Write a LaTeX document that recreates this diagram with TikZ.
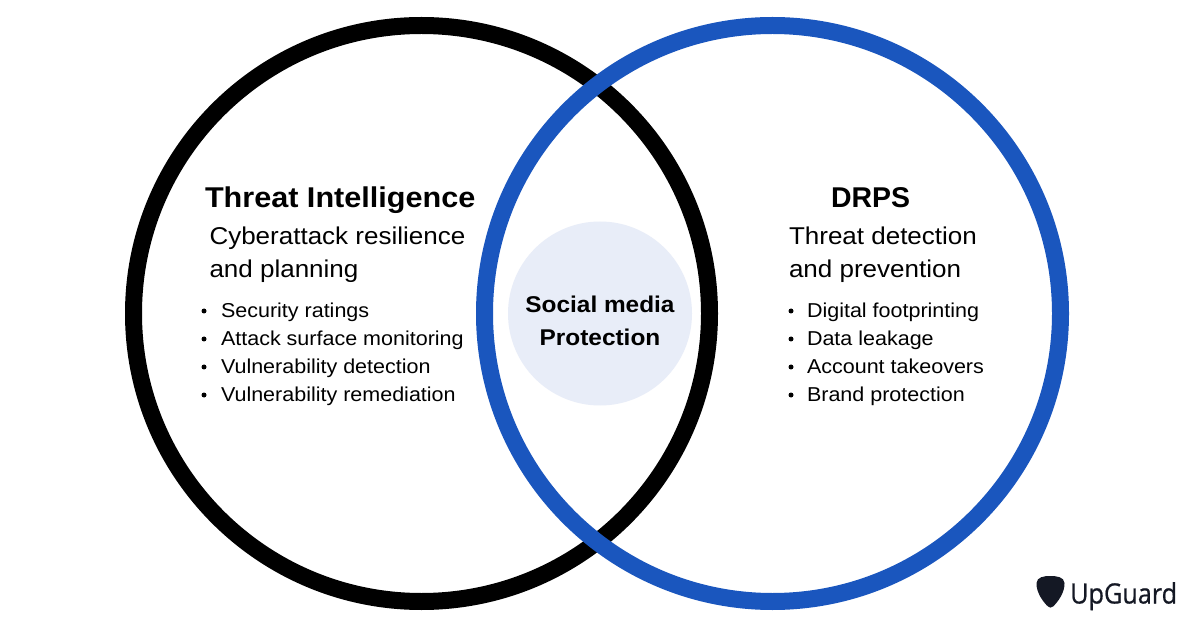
\documentclass[tikz,border=0pt]{standalone}
\usepackage{fontspec}
\usepackage{graphicx}
\setmainfont[FakeStretch=1.07]{Liberation Sans}
\newfontfamily\logofont[FakeStretch=0.9,FakeBold=0.6]{Open Sans}
\definecolor{ringblue}{HTML}{1A56BE}
\definecolor{softblue}{HTML}{E8EDF8}
\definecolor{inkdark}{HTML}{141824}
\tikzset{
  ring/.style={line width=17pt,draw=#1,fill=none},
  txt/.style={anchor=base west,inner sep=0pt,outer sep=0pt,text=black},
  headline/.style={txt,font=\fontsize{28.6}{32}\selectfont\bfseries},
  subline/.style={txt,font=\fontsize{24.3}{28}\selectfont},
  item/.style={txt,font=\fontsize{20.1}{24}\selectfont},
  centerlabel/.style={anchor=base,inner sep=0pt,outer sep=0pt,font=\fontsize{22.8}{26}\selectfont\bfseries},
  bullet/.style={circle,fill=black,inner sep=0pt,minimum size=5pt}
}
\begin{document}
\begin{tikzpicture}[x=1pt,y=-1pt]
\useasboundingbox (0,0) rectangle (1200,628);
\fill[white] (0,0) rectangle (1200,628);
\fill[softblue] (600,313.5) circle (92);
\draw[ring=black] (421.5,313.5) circle (288);
\draw[ring=ringblue] (772.5,313.5) circle (288);
\node[headline] (ti) at (205,208) {Threat Intelligence};
\node[subline] (tia) at (209.5,245) {Cyberattack resilience};
\node[subline] (tib) at (209.5,278) {and planning};
\foreach \n/\y/\t in {a/317.5/Security ratings,b/345.5/Attack surface monitoring,c/373.5/Vulnerability detection,d/401.5/Vulnerability remediation}{
  \node[bullet] (lb\n) at (204,\y-6.5) {};
  \node[item] (li\n) at (221,\y) {\t};
}
\node[headline] (dr) at (831,208) {\scalebox{0.93}[1]{DRPS}};
\node[subline] (dra) at (789,245) {Threat detection};
\node[subline] (drb) at (789,278) {and prevention};
\foreach \n/\y/\t in {a/317.5/Digital footprinting,b/345.5/Data leakage,c/373.5/Account takeovers,d/401.5/Brand protection}{
  \node[bullet] (rb\n) at (791,\y-6.5) {};
  \node[item] (ri\n) at (807,\y) {\t};
}
\node[centerlabel] (sm) at (600,313) {Social media};
\node[centerlabel] (pr) at (600,346) {Protection};
\fill[inkdark] (1036.5,583) .. controls (1037,577) and (1044,576) .. (1050,576)
  .. controls (1057,576) and (1064,577) .. (1064.5,583)
  .. controls (1065,592) and (1058,602) .. (1053,606.5)
  .. controls (1051,608) and (1049.5,608) .. (1048,606.5)
  .. controls (1043,602) and (1036,592) .. (1036.5,583) -- cycle;
\node[anchor=base west,inner sep=0pt,text=inkdark,font=\fontsize{28}{32}\selectfont\logofont] (ug) at (1070,603.5) {UpGuard};
\end{tikzpicture}
\end{document}
